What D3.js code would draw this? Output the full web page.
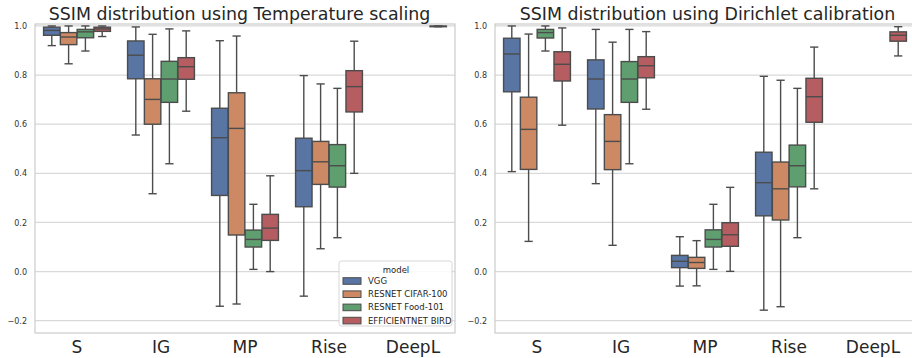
<!DOCTYPE html>
<html><head><meta charset="utf-8">
<script src="https://cdn.jsdelivr.net/npm/d3@7"></script>
<style>body{margin:0;background:#fff}svg{display:block;font-family:"DejaVu Sans",sans-serif}</style>
</head><body><svg id="c" width="912" height="358"></svg>
<script>
// ---- data ----
const methods = ["S", "IG", "MP", "Rise", "DeepL"];
const models = ["VGG", "RESNET CIFAR-100", "RESNET Food-101", "EFFICIENTNET BIRD"];
const colors = ["#5875a4", "#cc8963", "#5f9e6e", "#b55d60"];
const yTicks = [-0.2, 0.0, 0.2, 0.4, 0.6, 0.8, 1.0];
const titles = ["SSIM distribution using Temperature scaling", "SSIM distribution using Dirichlet calibration"];

// five-number summaries per method: [lowWhisker, Q1, median, Q3, highWhisker]
const tempVGG  = [[0.920,0.962,0.982,0.995,1.0],[0.556,0.785,0.881,0.939,0.996],[-0.141,0.310,0.545,0.665,0.940],[-0.100,0.264,0.411,0.543,0.798],null];
const tempCifar= [[0.846,0.924,0.955,0.973,1.0],[0.317,0.600,0.701,0.785,0.966],[-0.132,0.149,0.583,0.728,0.959],[0.093,0.355,0.447,0.530,0.764],null];
const tempFood = [[0.898,0.952,0.976,0.986,1.0],[0.439,0.689,0.784,0.856,0.988],[0.009,0.100,0.131,0.169,0.274],[0.138,0.344,0.431,0.517,0.746],null];
const tempBird = [[0.957,0.978,0.988,0.995,1.0],[0.653,0.783,0.834,0.871,0.980],[0.000,0.127,0.177,0.233,0.390],[0.400,0.650,0.753,0.818,0.938],[0.997,0.998,0.999,0.999,1.0]];

const dirVGG   = [[0.407,0.732,0.886,0.950,1.0],[0.358,0.662,0.784,0.862,0.986],[-0.059,0.016,0.042,0.066,0.142],[-0.157,0.227,0.362,0.486,0.795],null];
const dirCifar = [[0.123,0.416,0.579,0.710,0.967],[0.107,0.415,0.530,0.639,0.934],[-0.058,0.013,0.037,0.058,0.126],[-0.143,0.210,0.337,0.446,0.779],null];
const dirFood  = [[0.898,0.951,0.973,0.986,1.0],[0.439,0.689,0.784,0.855,0.986],[0.009,0.100,0.131,0.170,0.274],[0.138,0.345,0.431,0.515,0.746],null];
const dirBird  = [[0.596,0.776,0.844,0.895,0.992],[0.661,0.789,0.838,0.875,0.977],[0.001,0.103,0.150,0.199,0.343],[0.337,0.608,0.712,0.787,0.914],[0.878,0.938,0.962,0.976,0.997]];

const panels = [[tempVGG, tempCifar, tempFood, tempBird], [dirVGG, dirCifar, dirFood, dirBird]];

// ---- drawing ----
const svg = d3.select("#c");
const gray = "#4c4c4c", gridC = "#d9d9d9", spineC = "#cccccc";
const y = d3.scaleLinear().domain([-0.25, 1.008]).range([333, 24]);
const panelX = [[35, 455], [495, 915]];
const titleX = [239.5, 707.5];

panels.forEach((series, p) => {
  const g = svg.append("g");
  const x = d3.scaleBand().domain(methods).range(panelX[p]).paddingInner(0).paddingOuter(0);
  const xs = d3.scaleBand().domain(models).range([x.bandwidth()*0.1, x.bandwidth()*0.9]);
  // grid
  g.selectAll(".grid").data(yTicks).join("line")
    .attr("x1", panelX[p][0]).attr("x2", panelX[p][1])
    .attr("y1", d => y(d)).attr("y2", d => y(d))
    .attr("stroke", gridC).attr("stroke-width", 1.2);
  // y axis
  const ya = d3.axisLeft(y).tickValues(yTicks).tickSize(0).tickPadding(8)
    .tickFormat(d => d3.format(".1f")(d).replace("-", "\u2212"));
  const yg = g.append("g").attr("transform", `translate(${panelX[p][0]},0)`).call(ya);
  yg.select(".domain").remove();
  yg.selectAll("text").attr("font-size", 8).attr("fill", "#333").attr("font-family", "DejaVu Sans");
  // x axis
  const xa = d3.axisBottom(x).tickSize(0).tickPadding(8);
  const xg = g.append("g").attr("transform", "translate(0,333)").call(xa);
  xg.select(".domain").remove();
  xg.selectAll("text").attr("font-size", 17).attr("fill", "#262626").attr("font-family", "DejaVu Sans").attr("dy", "0.71em");
  // spines
  g.append("rect").attr("x", panelX[p][0]).attr("y", y.range()[1])
    .attr("width", panelX[p][1]-panelX[p][0]).attr("height", y.range()[0]-y.range()[1])
    .attr("fill", "none").attr("stroke", spineC).attr("stroke-width", 1.2);
  // boxes
  series.forEach((arr, mi) => {
    const bw = xs.bandwidth()*0.98;
    arr.forEach((s, ci) => {
      if (!s) return;
      const cx = x(methods[ci]) + xs(models[mi]) + xs.bandwidth()/2;
      const bg = g.append("g");
      const capW = bw/2;
      bg.append("line").attr("x1", cx).attr("x2", cx).attr("y1", y(s[0])).attr("y2", y(s[1])).attr("stroke", gray).attr("stroke-width", 1.4);
      bg.append("line").attr("x1", cx).attr("x2", cx).attr("y1", y(s[3])).attr("y2", y(s[4])).attr("stroke", gray).attr("stroke-width", 1.4);
      [s[0], s[4]].forEach(v => bg.append("line").attr("x1", cx-capW/2).attr("x2", cx+capW/2).attr("y1", y(v)).attr("y2", y(v)).attr("stroke", gray).attr("stroke-width", 1.4));
      bg.append("rect").attr("x", cx-bw/2).attr("width", bw).attr("y", y(s[3])).attr("height", Math.max(0.5, y(s[1])-y(s[3])))
        .attr("fill", colors[mi]).attr("stroke", gray).attr("stroke-width", 1.4);
      bg.append("line").attr("x1", cx-bw/2).attr("x2", cx+bw/2).attr("y1", y(s[2])).attr("y2", y(s[2])).attr("stroke", gray).attr("stroke-width", 1.4);
    });
  });
  // title
  svg.append("text").attr("x", titleX[p]).attr("y", 20)
    .attr("text-anchor", "middle").attr("font-size", 17.4).attr("fill", "#262626").text(titles[p]);
});

// legend (left panel, lower right)
const lg = svg.append("g").attr("transform", "translate(339,261)");
lg.append("rect").attr("width", 113).attr("height", 65).attr("rx", 2.5)
  .attr("fill", "white").attr("fill-opacity", 0.85).attr("stroke", "#d6d6d6").attr("stroke-width", 1);
lg.append("text").attr("x", 57).attr("y", 11.5).attr("text-anchor", "middle").attr("font-size", 8.5).attr("fill", "#262626").text("model");
models.forEach((m, i) => {
  const yy = 20 + i*13.2;
  lg.append("rect").attr("x", 4).attr("y", yy-3.3).attr("width", 18).attr("height", 6.6)
    .attr("fill", colors[i]).attr("stroke", gray).attr("stroke-width", 1);
  lg.append("text").attr("x", 29).attr("y", yy).attr("dy", "0.35em").attr("font-size", 8.5).attr("fill", "#262626").text(m);
});
</script></body></html>
